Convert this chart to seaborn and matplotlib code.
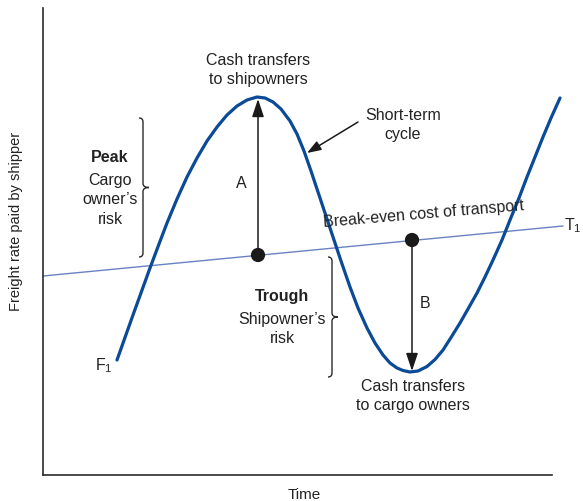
import numpy as np
import pandas as pd
import matplotlib.pyplot as plt
from matplotlib.path import Path
from matplotlib.patches import PathPatch
import seaborn as sns

# Short-term freight cycle
cycle_time = [74, 90, 107, 116, 124, 134, 144, 154, 164, 174, 184, 194, 204, 214,
              222, 230, 238, 247, 254, 261, 268, 274, 282, 290, 298, 307, 315, 324,
              332, 340, 347, 354, 360, 367, 375, 384, 392, 400, 408, 417, 425, 434,
              442, 450, 459, 467, 476, 484, 492, 500, 508, 517]
cycle_rate = [115, 160, 207, 231, 252, 276, 298, 317, 334, 348, 360, 369, 375, 378,
              377, 373, 366, 354, 341, 324, 304, 286, 262, 238, 214, 188, 167, 147,
              132, 120, 112, 107, 104.5, 103, 104, 108.5, 115.5, 125, 137.5, 152, 166,
              182, 198, 215, 235, 255, 277, 298, 318, 338, 357, 377]

# Break-even cost of transport (trend)
trend_time = [0, 520]
trend_rate = [199, 249]

# Points on the break-even line, with peak and trough above / below them
event_time = [215, 369]
event_rate = [220, 235]
event_target = [376, 104]
event_label = ['A', 'B']

sns.set_theme(style='white')
plt.rcParams['font.family'] = ['Liberation Sans', 'DejaVu Sans']
plt.rcParams['mathtext.fontset'] = 'custom'
plt.rcParams['mathtext.rm'] = 'Liberation Sans'

fig = plt.figure(figsize=(5.83, 5.01), dpi=100)
ax = fig.add_axes([43 / 583, 26 / 501, 509 / 583, 467 / 501])

cycle = pd.DataFrame({'time': cycle_time, 'rate': cycle_rate})
trend = pd.DataFrame({'time': trend_time, 'rate': trend_rate})
events = pd.DataFrame({'time': event_time, 'rate': event_rate})

sns.lineplot(data=trend, x='time', y='rate', color='#6a82c2', lw=1.0, ax=ax,
             estimator=None, sort=False, clip_on=False)
sns.lineplot(data=cycle, x='time', y='rate', color='#0b4a97', lw=2.3, ax=ax,
             estimator=None, sort=False, clip_on=False, zorder=3)

# A / B arrows from the break-even line to the peak / trough
for t, r0, r1, lab, dx, dy in zip(event_time, event_rate, event_target, event_label,
                                  [-17, 13], [-6, 2]):
    ax.annotate('', xy=(t, r1), xytext=(t, r0),
                arrowprops=dict(arrowstyle='-|>,head_length=0.9,head_width=0.3',
                                color='#1a1a1a', lw=1.1, shrinkA=0, shrinkB=0))
    ax.text(t + dx, r0 + (r1 - r0) / 2 + dy, lab,
            ha='center', va='center', fontsize=11.5, color='#222222')

sns.scatterplot(data=events, x='time', y='rate', s=105, color='#1a1a1a',
                edgecolor='none', ax=ax, zorder=5, clip_on=False)


def brace(ax, x, top, bottom, hook=4, tip=6):
    mid = (top + bottom) / 2
    verts = [(x - hook, top), (x, top), (x, top - hook),
             (x, mid + hook), (x, mid), (x + tip, mid),
             (x, mid), (x, mid - hook),
             (x, bottom + hook), (x, bottom), (x - hook, bottom)]
    codes = [Path.MOVETO, Path.CURVE3, Path.CURVE3,
             Path.LINETO, Path.CURVE3, Path.CURVE3,
             Path.CURVE3, Path.CURVE3,
             Path.LINETO, Path.CURVE3, Path.CURVE3]
    ax.add_patch(PathPatch(Path(verts, codes), fill=False, lw=1.0,
                           edgecolor='#2a2a2a', clip_on=False))


brace(ax, 100, 357, 218)
brace(ax, 289, 218, 98)

txt = dict(ha='center', va='center', fontsize=11.5, color='#222222', linespacing=1.35)
ax.text(215, 405, 'Cash transfers\nto shipowners', **txt)
ax.text(370, 79, 'Cash transfers\nto cargo owners', **txt)
ax.text(360, 350, 'Short-term\ncycle', **txt)
ax.text(67, 318, 'Peak', fontweight='bold', **txt)
ax.text(67, 275, 'Cargo\nowner\u2019s\nrisk', **txt)
ax.text(239, 178, 'Trough', fontweight='bold', **txt)
ax.text(239, 146, 'Shipowner\u2019s\nrisk', **txt)
ax.text(381, 261, 'Break-even cost of transport', rotation=4.8, rotation_mode='anchor',
        **txt)
ax.text(61, 109, r'$\mathregular{F_1}$', **txt)
ax.text(521, 249, r'$\mathregular{T_1}$', ha='left', va='center', fontsize=11.5,
        color='#222222')

ax.annotate('', xy=(264, 322), xytext=(315, 353),
            arrowprops=dict(arrowstyle='-|>,head_length=0.7,head_width=0.25',
                            color='#1a1a1a', lw=1.1, shrinkA=0, shrinkB=0))

ax.set_xlim(0, 509)
ax.set_ylim(0, 467)
ax.set_xticks([])
ax.set_yticks([])
sns.despine(ax=ax)
for side in ['left', 'bottom']:
    ax.spines[side].set_color('#2b2b2b')
    ax.spines[side].set_linewidth(1.2)

ax.set_xlabel('Time', fontsize=11, color='#222222')
ax.xaxis.set_label_coords(0.513, -0.028)
ax.set_ylabel('Freight rate paid by shipper', fontsize=10.5, color='#222222', va='center')
ax.yaxis.set_label_coords(-0.053, 0.542)

fig.savefig('out.png', dpi=100)
